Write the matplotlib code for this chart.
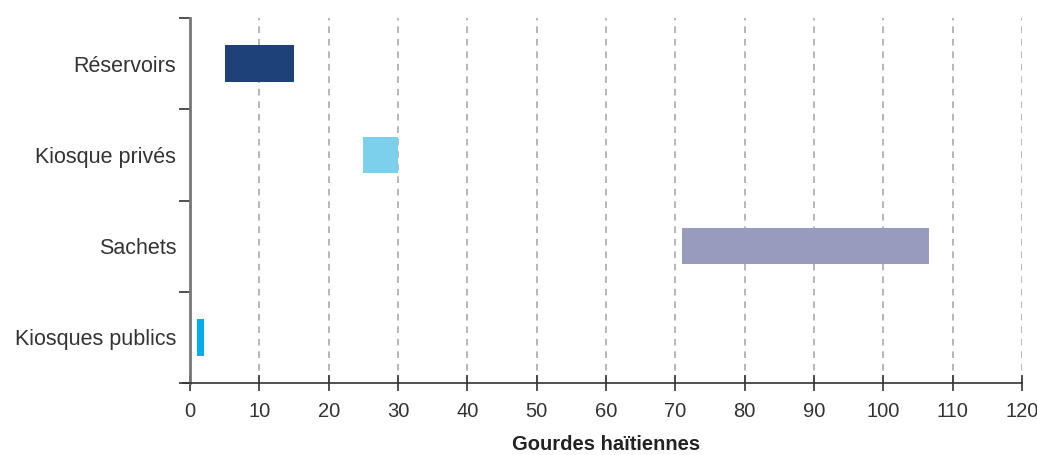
import numpy as np
import matplotlib.pyplot as plt

plt.rcParams['font.family'] = ['Liberation Sans', 'DejaVu Sans']

categories = ['Réservoirs', 'Kiosque privés', 'Sachets', 'Kiosques publics']
low = [5, 25, 71, 1]
high = [15, 30, 106.6, 2]
colors = ['#1f417a', '#7dd0ec', '#989bbd', '#00aeef']
xticks = list(range(0, 121, 10))

fig = plt.figure(figsize=(10.37, 4.55), dpi=100)
ax = fig.add_axes([190 / 1037, 1 - 383 / 455, 832 / 1037, 365 / 455])

y = np.arange(len(categories))
widths = np.array(high) - np.array(low)
ax.barh(y, widths, left=low, height=0.4, color=colors, zorder=3)

ax.set_xlim(0, 120)
ax.set_ylim(len(categories) - 0.5, -0.5)
ax.set_xticks(xticks)
ax.set_xticklabels([str(t) for t in xticks], fontsize=14.5, color='#333333')
ax.set_yticks(y)
ax.set_yticklabels(categories, fontsize=15.5, color='#333333')
ax.set_yticks(np.arange(-0.5, len(categories), 1.0), minor=True)
ax.tick_params(axis='y', which='major', length=0, pad=10)
ax.tick_params(axis='y', which='minor', length=8, width=1.2, color='#333333')
ax.tick_params(axis='x', direction='inout', length=12, width=1.2, color='#333333', pad=8)

for t in xticks[1:]:
    ax.axvline(t, color='#aaaaaa', linestyle=(0, (4, 3.5)), linewidth=1.2, zorder=1)

for s in ['top', 'right']:
    ax.spines[s].set_visible(False)
ax.spines['left'].set_color('#777777')
ax.spines['left'].set_linewidth(2)
ax.spines['bottom'].set_color('#333333')
ax.spines['bottom'].set_linewidth(1.2)
ax.spines['bottom'].set_bounds(-1, 120)

fig.text(606 / 1037, 1 - 445 / 455, 'Gourdes haïtiennes', fontsize=14.5, fontweight='bold',
         color='#222222', ha='center', va='center')

fig.savefig('out.png', dpi=100)
